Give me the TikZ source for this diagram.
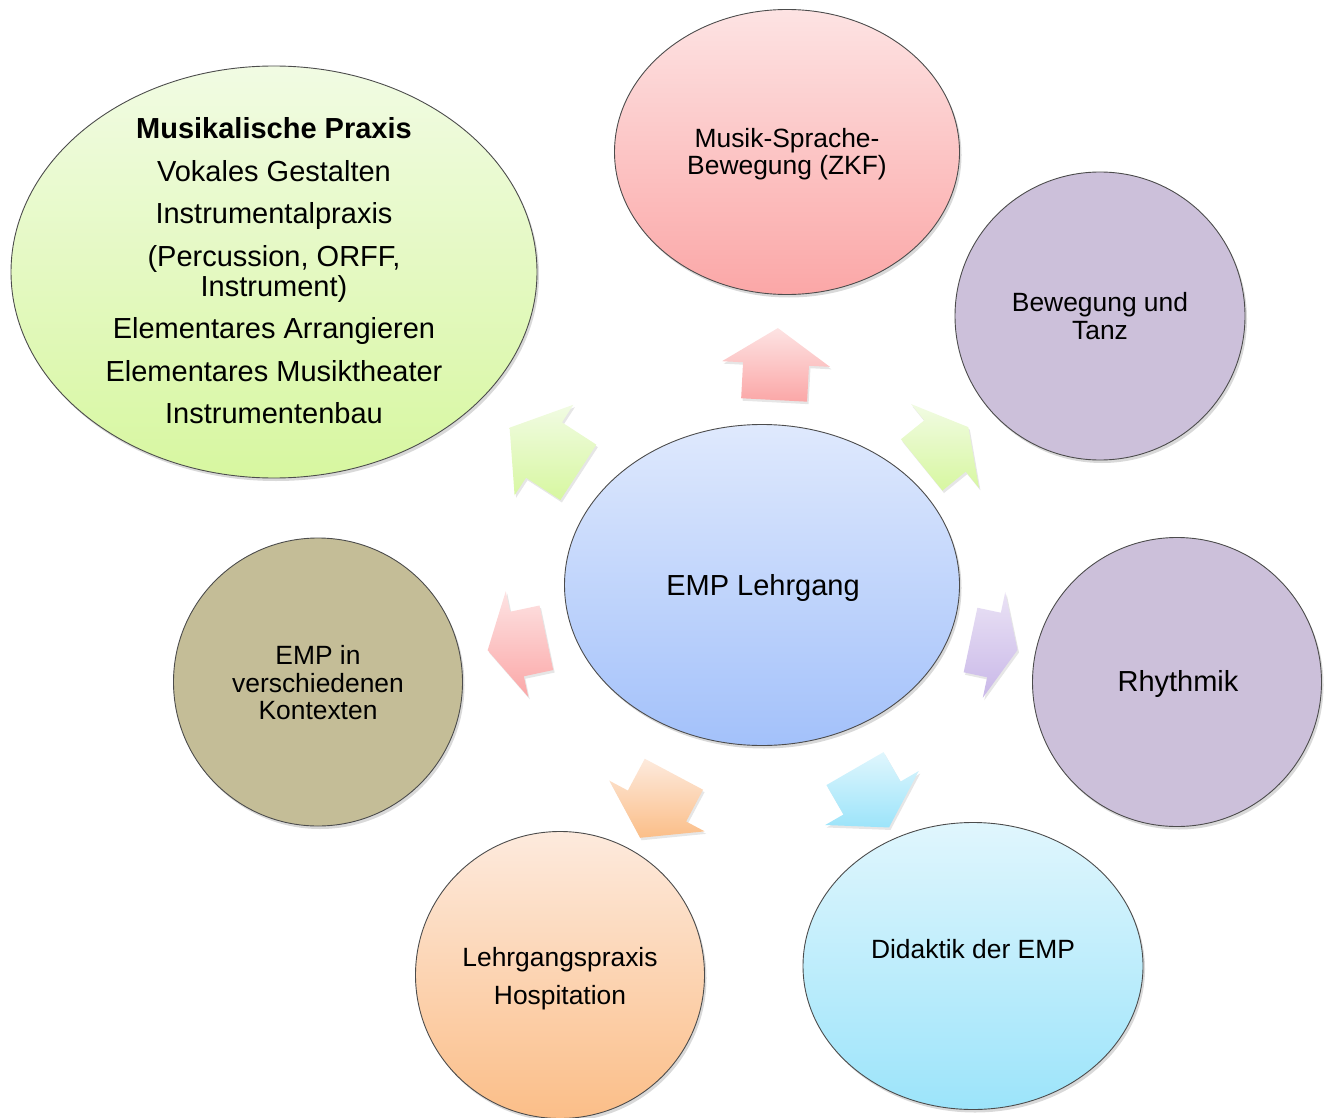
\documentclass[tikz,border=0pt]{standalone}
\usepackage{fontspec}
\setmainfont{Liberation Sans}
\usetikzlibrary{shapes.geometric,shadows,calc}

\definecolor{grT}{HTML}{F1FBE3}\definecolor{grB}{HTML}{D7F7A0}
\definecolor{pkT}{HTML}{FDE3E3}\definecolor{pkB}{HTML}{FBA7A7}
\definecolor{pu}{HTML}{CCC0DA}
\definecolor{olv}{HTML}{C4BD97}
\definecolor{cyT}{HTML}{E0F6FD}\definecolor{cyB}{HTML}{9CE4FA}
\definecolor{orT}{HTML}{FDEADD}\definecolor{orB}{HTML}{FBBE88}
\definecolor{blT}{HTML}{DFE9FD}\definecolor{blB}{HTML}{A3C1FA}
\definecolor{apT}{HTML}{EAE2F5}\definecolor{apB}{HTML}{C9B8E8}

\tikzset{
  ell/.style={ellipse, draw=black!70, line width=0.9pt, inner sep=0pt,
    drop shadow={opacity=0.3, shadow xshift=2pt, shadow yshift=-3pt}},
  txt/.style={align=center, inner sep=0pt, font=\fontsize{26.4}{27.5}\selectfont},
  barr/.style={draw=none, drop shadow={opacity=0.2, shadow xshift=1.5pt, shadow yshift=-2.5pt}}
}

% #1 name, #2 x, #3 y (pixels, downwards), #4 angle, #5 half length, #6 colour prefix
\newcommand{\blockarrow}[6]{%
  \coordinate (#1) at (#2,-#3);
  \path[barr, top color=#6T, bottom color=#6B]
    ($(#1)+({#4}:{#5})$)
    -- ($(#1)+({#4+90}:54)$)
    -- ($(#1)+({#4+90}:33)$)
    -- ($(#1)+({#4}:{-#5})+({#4+90}:33)$)
    -- ($(#1)+({#4}:{-#5})+({#4-90}:33)$)
    -- ($(#1)+({#4-90}:33)$)
    -- ($(#1)+({#4-90}:54)$)
    -- cycle;}

\begin{document}
\begin{tikzpicture}[x=1pt,y=1pt]
\useasboundingbox (0,0) rectangle (1330,-1118);

% outer ellipses
\node[ell, top color=grT, bottom color=grB, minimum width=526pt, minimum height=412pt] (praxis) at (274,-272) {};
\node[ell, top color=pkT, bottom color=pkB, minimum width=345pt, minimum height=285pt] (zkf) at (787,-152) {};
\node[ell, fill=pu, minimum width=290pt, minimum height=288pt] (tanz) at (1100,-316) {};
\node[ell, fill=pu, minimum width=289pt, minimum height=289pt] (rhythmik) at (1177,-682) {};
\node[ell, top color=cyT, bottom color=cyB, minimum width=340pt, minimum height=287pt] (didaktik) at (973,-966) {};
\node[ell, top color=orT, bottom color=orB, minimum width=289pt, minimum height=287pt] (lgp) at (560,-975) {};
\node[ell, fill=olv, minimum width=289pt, minimum height=288pt] (kontext) at (318,-682) {};
\node[ell, top color=blT, bottom color=blB, minimum width=395pt, minimum height=321pt] (emp) at (762,-585) {};

% texts
\node[txt, font=\fontsize{29}{30}\selectfont] (praxis-t) at (274,-271)
  {\textbf{Musikalische Praxis}\\[12.5pt] Vokales Gestalten\\[12.5pt] Instrumentalpraxis\\[12.5pt]
   (Percussion, ORFF,\\ Instrument)\\[12.5pt] Elementares Arrangieren\\[12.5pt]
   Elementares Musiktheater\\[12.5pt] Instrumentenbau};
\node[txt] (zkf-t) at (787,-154) {Musik-Sprache-\\Bewegung (ZKF)};
\node[txt] (tanz-t) at (1100,-316) {Bewegung und\\Tanz};
\node[txt, font=\fontsize{29}{30}\selectfont] (rhythmik-t) at (1178,-684) {Rhythmik};
\node[txt] (didaktik-t) at (973,-949) {Didaktik der EMP};
\node[txt] (lgp-t) at (560,-979) {Lehrgangspraxis\\[10.5pt]Hospitation};
\node[txt] (kontext-t) at (318,-683) {EMP in\\verschiedenen\\Kontexten};
\node[txt, font=\fontsize{29}{30}\selectfont] (emp-t) at (763,-588) {EMP Lehrgang};

% block arrows
\blockarrow{a-zkf}{776}{364}{87}{36}{pk}
\blockarrow{a-praxis}{544}{450}{147}{41}{gr}
\blockarrow{a-tanz}{945}{446}{39}{30}{gr}
\blockarrow{a-kontext}{517}{644}{192}{30}{pk}
\blockarrow{a-rhythmik}{994}{645}{-12}{24}{ap}
\blockarrow{a-lgp}{657}{806}{-118}{36}{or}
\blockarrow{a-didaktik}{872}{798}{-60}{34}{cy}
\end{tikzpicture}
\end{document}
